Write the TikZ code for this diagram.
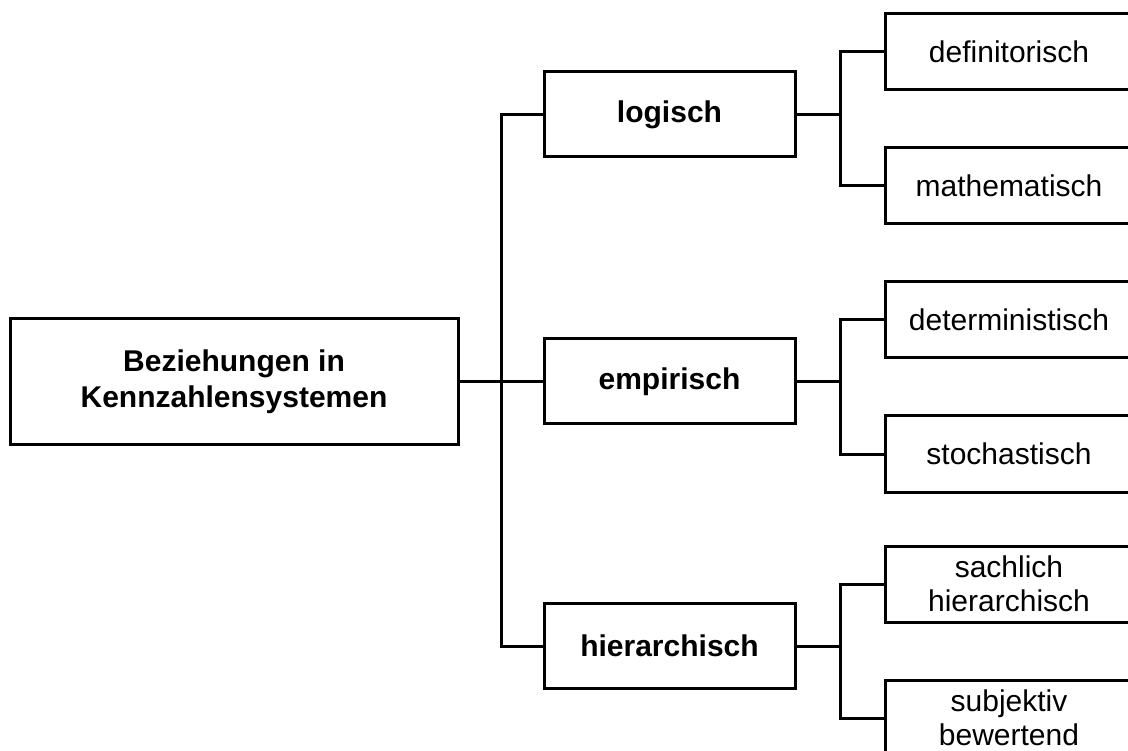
\documentclass[tikz,border=0pt]{standalone}
\usepackage{fontspec}
\setmainfont{Liberation Sans}
\begin{document}
\begin{tikzpicture}[x=1pt,y=-1pt,
  every node/.style={font=\fontsize{30}{34.5}\selectfont},
  box/.style={draw=black,line width=3pt,fill=white,inner sep=0pt,outer sep=0pt,align=center},
  rootbox/.style={box,minimum width=448pt,minimum height=125pt,font=\fontsize{30}{36}\selectfont\bfseries},
  midbox/.style={box,minimum width=251pt,minimum height=85pt,font=\fontsize{30}{34.5}\selectfont\bfseries},
  leafbox/.style={box,minimum width=248pt,minimum height=76pt},
  link/.style={draw=black,line width=3pt}]
  \useasboundingbox (0,0) rectangle (1128,751);
  \fill[white] (0,0) rectangle (1128,751);

  % root and the three kinds of relations
  \node[rootbox] (root) at (234,381.5) {Beziehungen in\\Kennzahlensystemen};
  \node[midbox] (log) at (669.5,114.5) {logisch};
  \node[midbox] (emp) at (669.5,381.5) {empirisch};
  \node[midbox] (hie) at (669.5,646) {hierarchisch};

  % sub-types
  \node[leafbox] (def) at (1009,51.3) {definitorisch};
  \node[leafbox] (mat) at (1009,186) {mathematisch};
  \node[leafbox] (det) at (1009,319.7) {deterministisch};
  \node[leafbox] (sto) at (1009,454) {stochastisch};
  \node[leafbox] (sac) at (1009,584) {sachlich\\hierarchisch};
  \node[leafbox] (sub) at (1009,718) {subjektiv\\bewertend};

  % trunk from the root
  \draw[link] (root.east) -- (emp.west);
  \draw[link] (log.west) -- ++(-43,0) |- (hie.west);

  % branches to the sub-types
  \draw[link] (log.east) -- ++(45,0);
  \draw[link] (def.west) -- ++(-45,0) |- (mat.west);
  \draw[link] (emp.east) -- ++(45,0);
  \draw[link] (det.west) -- ++(-45,0) |- (sto.west);
  \draw[link] (hie.east) -- ++(45,0);
  \draw[link] (sac.west) -- ++(-45,0) |- (sub.west);
\end{tikzpicture}
\end{document}
